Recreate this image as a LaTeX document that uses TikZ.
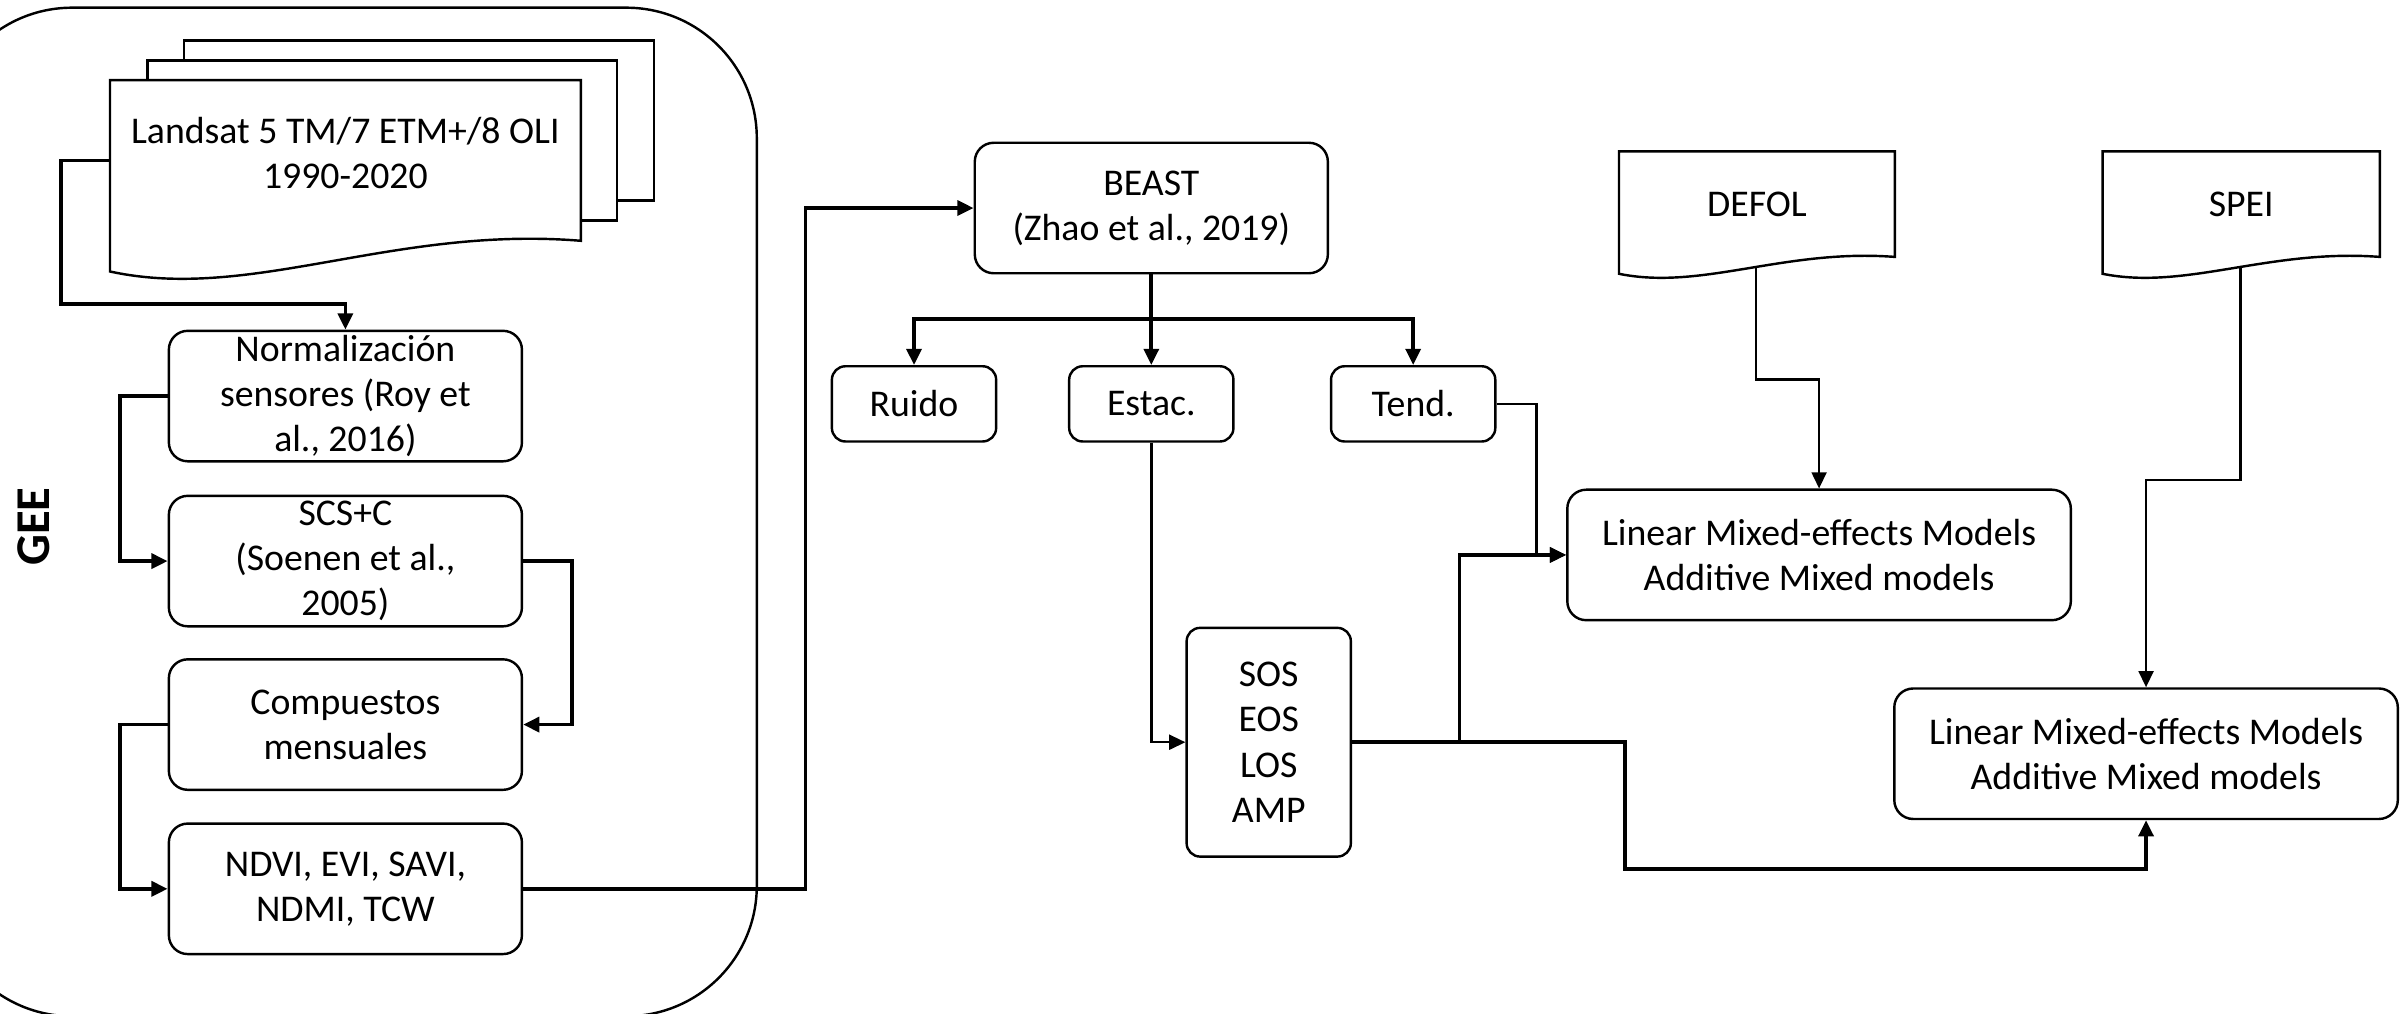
\documentclass[tikz,border=0pt]{standalone}
\usepackage{fontspec}
\setmainfont{Carlito}
\usepackage{tikz}
\usetikzlibrary{positioning, arrows.meta, calc, backgrounds}

% document outline with a wavy bottom, drawn round a node
\newcommand{\docoutline}[2]{%
  \path[docline] (#1.south east) -- (#1.north east) -- (#1.north west)
    -- ($(#1.south west)+(0,-#2)$)
    .. controls ($(#1.south west)!0.3!(#1.south east)+(0,-2*#2)$)
            and ($(#1.south west)!0.6!(#1.south east)+(0,0.5*#2)$)
    .. (#1.south east) coordinate[pos=0.535] (#1-wave) -- cycle;}

\begin{document}
\begin{tikzpicture}[
  x=0.2mm, y=0.2mm,
  node distance=0.44cm and 0.92cm,
  box/.style={
    rectangle, rounded corners=7pt, draw, line width=0.9pt,
    minimum width=4.6cm, minimum height=1.7cm, inner sep=0pt,
    font=\fontsize{14}{16.7}\selectfont, align=center
  },
  small/.style={box, rounded corners=5pt, minimum width=2.14cm, minimum height=0.98cm},
  model/.style={box, minimum width=6.56cm},
  doc/.style={rectangle, inner sep=0pt, font=\fontsize{14}{16.7}\selectfont, align=center},
  docline/.style={draw, line width=0.9pt, fill=white},
  sheet/.style={rectangle, draw, line width=0.9pt, fill=white,
    minimum width=6.12cm, minimum height=2.08cm},
  arrow/.style={-{Triangle[length=6pt, width=5.5pt]}, line width=1.4pt},
  thinarrow/.style={arrow, line width=0.9pt},
  line/.style={line width=1.4pt},
]
\useasboundingbox (0,0) rectangle (1568,-660);

% --- GEE column ---
\node[doc, minimum width=6.12cm, minimum height=2.08cm,
  label={[doc, yshift=0.1cm]center:{Landsat 5 TM/7 ETM+/8 OLI\\1990-2020}}]
  (landsat) at (225,-104.5) {};
\node[box] (norm) at (225,-258) {Normalización\\sensores (Roy et\\al., 2016)};
\node[box] (scs) at (225,-365.5) {SCS+C\\(Soenen et al.,\\2005)};
\node[box] (comp) at (225,-472) {Compuestos\\mensuales};
\node[box] (ndvi) at (225,-579) {NDVI, EVI, SAVI,\\NDMI, TCW};
\node[rotate=90, font=\fontsize{18}{21}\selectfont\bfseries] (gee) at (22,-343) {GEE};

% --- BEAST ---
\node[box] (beast) at (750,-135.5) {BEAST\\(Zhao et al., 2019)};
\node[small, below=1.18cm of beast] (estac) {Estac.};
\node[small, left=of estac] (ruido) {Ruido};
\node[small, right=1.24cm of estac] (tend) {Tend.};
\node[small, minimum height=2.98cm] (fenol) at (826.5,-483.5) {SOS\\EOS\\LOS\\AMP};

% --- Models ---
\node[model] (lmm1) at (1185,-361.5) {Linear Mixed-effects Models\\Additive Mixed models};
\node[model] (lmm2) at (1398,-491) {Linear Mixed-effects Models\\Additive Mixed models};
\node[doc, minimum width=3.58cm, minimum height=1.36cm] (defol) at (1144.5,-133) {DEFOL};
\node[doc, minimum width=3.6cm, minimum height=1.36cm] (spei) at (1460,-133) {SPEI};

% --- Frame and document shapes ---
\begin{scope}[on background layer]
  \draw[line width=0.9pt, rounded corners=1.7cm] (-38,-5) rectangle (493,-662);
  \node[sheet] (sheetc) at ($(landsat)+(48,26)$) {};
  \node[sheet] (sheetb) at ($(landsat)+(24,13)$) {};
  \docoutline{landsat}{20}
  \docoutline{defol}{11}
  \docoutline{spei}{11}
\end{scope}

% --- Arrows ---
\draw[arrow] (landsat.west) -- ++(-32,0) -- ++(0,-93.5) -| (norm.north);
\draw[arrow] (norm.west) -- ++(-31,0) |- (scs.west);
\draw[arrow] (scs.east) -- ++(32,0) |- (comp.east);
\draw[arrow] (comp.west) -- ++(-31,0) |- (ndvi.west);
\draw[arrow] (ndvi.east) -- ++(184,0) |- (beast.west);
\draw[line] (beast.south) -- ++(0,-29) coordinate (split);
\draw[arrow] (split) -| (ruido.north);
\draw[arrow] (split) -| (tend.north);
\draw[arrow] (split) -- (estac.north);
\draw[thinarrow] (estac.south) |- (fenol.west);
\draw[thinarrow] (tend.east) -- ++(26,0) |- (lmm1.west);
\draw[arrow] (fenol.east) -- ++(70,0) |- (lmm1.west);
\draw[arrow] (fenol.east) -- ++(178,0) -- ++(0,-82.5) -| (lmm2.south);
\draw[thinarrow] (defol-wave) |- ($(lmm1.north)+(0,71)$) -- (lmm1.north);
\draw[thinarrow] (spei-wave) |- ($(lmm2.north)+(0,135)$) -- (lmm2.north);

\end{tikzpicture}
\end{document}
